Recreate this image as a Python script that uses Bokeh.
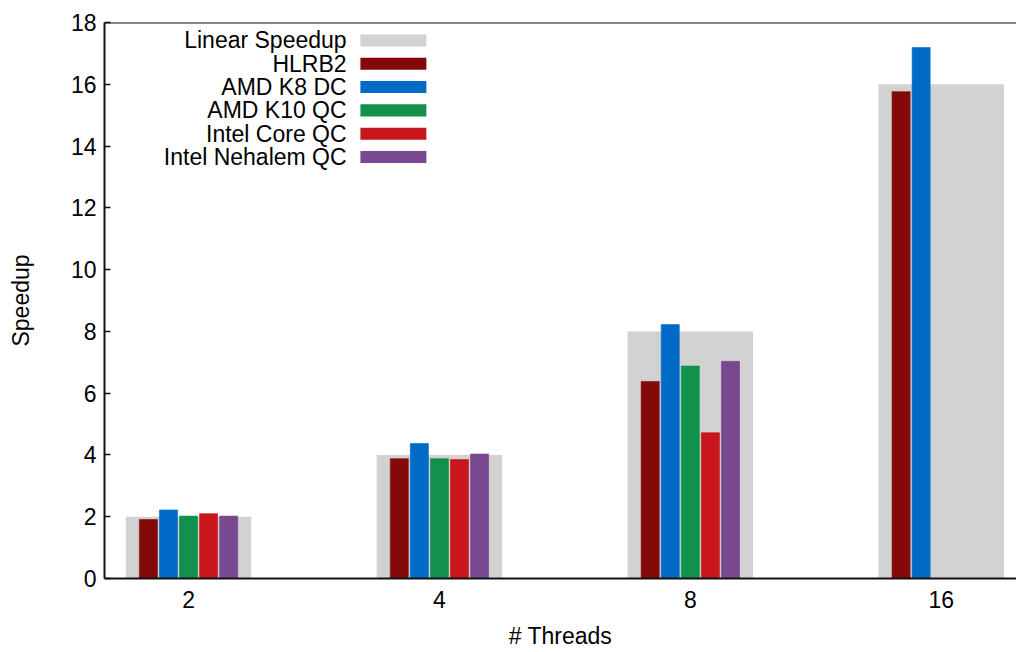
import math
from bokeh.plotting import figure
from bokeh.models import ColumnDataSource, FixedTicker, Span, Label, Range1d
from bokeh.embed import file_html
from bokeh.resources import INLINE

threads = ["2", "4", "8", "16"]
linear = [2, 4, 8, 16]
series_names = ["HLRB2", "AMD K8 DC", "AMD K10 QC", "Intel Core QC", "Intel Nehalem QC"]
hlrb2 = [1.91, 3.88, 6.38, 15.76]
amd_k8 = [2.22, 4.37, 8.22, 17.19]
amd_k10 = [2.02, 3.88, 6.88, None]
intel_core = [2.10, 3.85, 4.72, None]
intel_nehalem = [2.02, 4.03, 7.03, None]
series_values = [hlrb2, amd_k8, amd_k10, intel_core, intel_nehalem]
colors = ["#840a0a", "#006ac6", "#11914c", "#c8161c", "#784890"]
gray = "#d2d2d2"

FONT = "Liberation Sans"
FS = "23px"

p = figure(width=1016, height=652, output_backend="svg", toolbar_location=None,
           x_range=Range1d(-0.335, 3.30), y_range=Range1d(0, 18),
           min_border_left=104, min_border_right=0, min_border_top=22, min_border_bottom=74)
p.outline_line_color = None
p.grid.visible = False
p.background_fill_color = "white"
p.border_fill_color = "white"

xs = list(range(len(threads)))
p.vbar(x=xs, top=linear, width=0.5, bottom=0, fill_color=gray, line_color=None)

offsets = [-0.16, -0.08, 0.0, 0.08, 0.16]
for vals, col, off in zip(series_values, colors, offsets):
    bx = [i + off for i, v in enumerate(vals) if v is not None]
    bt = [v for v in vals if v is not None]
    src = ColumnDataSource(dict(x=bx, top=bt))
    p.vbar(x="x", top="top", bottom=0, width=0.072, source=src,
           fill_color=col, line_color=col, line_alpha=0.6)

# axes
p.xaxis.ticker = FixedTicker(ticks=xs)
p.xaxis.major_label_overrides = {i: t for i, t in enumerate(threads)}
p.xaxis.major_tick_in = 0
p.xaxis.major_tick_out = 0
p.xaxis.minor_tick_line_color = None
p.xaxis.axis_label = "# Threads"
p.xaxis.major_label_standoff = 12
p.xaxis.axis_label_standoff = 12

p.yaxis.ticker = FixedTicker(ticks=list(range(0, 19, 2)))
p.yaxis.major_tick_in = 6
p.yaxis.major_tick_out = 0
p.yaxis.minor_tick_line_color = None
p.yaxis.axis_label = "Speedup"
p.yaxis.major_label_standoff = 8
p.yaxis.axis_label_standoff = 34

for ax in (p.xaxis, p.yaxis):
    ax.axis_line_width = 2
    ax.axis_line_color = "#111111"
    ax.major_tick_line_color = "#111111"
    ax.major_tick_line_width = 1.5
    ax.major_label_text_font = FONT
    ax.major_label_text_font_size = FS
    ax.major_label_text_color = "black"
    ax.axis_label_text_font = FONT
    ax.axis_label_text_font_size = FS
    ax.axis_label_text_font_style = "normal"
    ax.axis_label_text_color = "black"

p.add_layout(Span(location=18, dimension="width", line_color="#111111", line_width=2))

# legend (label on the left, swatch on the right)
legend_names = ["Linear Speedup"] + series_names
legend_colors = [gray] + colors
ys0 = 17.42
dy = 0.755
for k, (nm, col) in enumerate(zip(legend_names, legend_colors)):
    yy = ys0 - k * dy
    p.add_layout(Label(x=0.63, y=yy, text=nm, text_align="right", text_baseline="middle",
                       text_font=FONT, text_font_size=FS, text_color="black"))
    p.quad(left=[0.685], right=[0.948], top=[yy + 0.195], bottom=[yy - 0.195],
           fill_color=col, line_color=None)

open("out.html", "w").write(file_html(p, INLINE))
